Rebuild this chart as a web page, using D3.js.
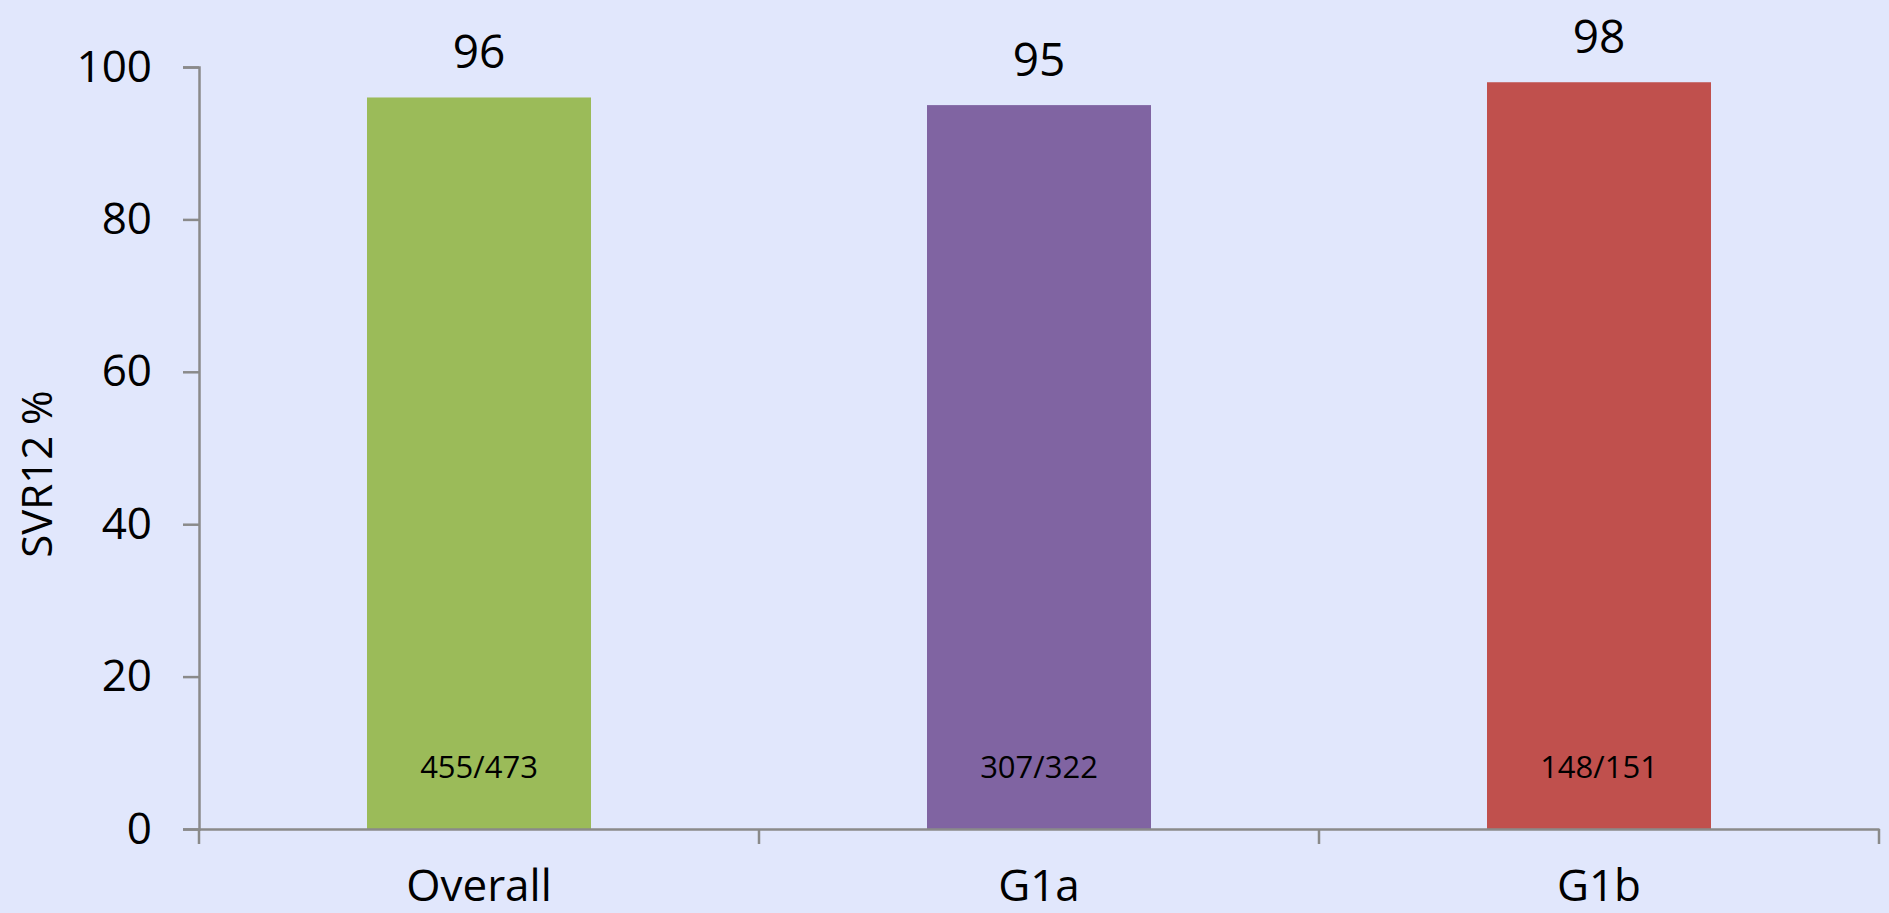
<!DOCTYPE html>
<html>
<head>
<meta charset="utf-8">
<script src="https://cdn.jsdelivr.net/npm/d3@7"></script>
<style>
  html, body { margin: 0; padding: 0; background: #e1e7fc; }
  svg { display: block; font-family: "Open Sans", sans-serif; }
</style>
</head>
<body>
<div id="chart"></div>
<script>
// chart data
var categories = ["Overall", "G1a", "G1b"];
var svrValues = [96, 95, 98];
var countLabels = ["455/473", "307/322", "148/151"];
var barColors = ["#9bbb59", "#8064a2", "#c0504d"];
var yTicks = [0, 20, 40, 60, 80, 100];

var svgWidth = 1889;
var svgHeight = 913;

var margin = { top: 67, right: 10, bottom: 84, left: 199 };
var width = 1879 - margin.left;
var height = svgHeight - margin.top - margin.bottom;

var axisColor = "#8a8a8a";

var svg = d3.select("#chart")
  .append("svg")
  .attr("width", svgWidth)
  .attr("height", svgHeight);

svg.append("rect")
  .attr("width", svgWidth)
  .attr("height", svgHeight)
  .attr("fill", "#e1e7fc");

var chartGroup = svg.append("g")
  .attr("transform", `translate(${margin.left}, ${margin.top})`);

// scales
var xBandScale = d3.scaleBand()
  .domain(categories)
  .range([0, width])
  .paddingInner(0)
  .paddingOuter(0);

var barWidth = xBandScale.bandwidth() * 0.4;

var yLinearScale = d3.scaleLinear()
  .domain([0, 100])
  .range([height, 0]);

// bars
chartGroup.selectAll(".bar")
  .data(svrValues)
  .enter()
  .append("rect")
  .attr("class", "bar")
  .attr("x", (d, i) => xBandScale(categories[i]) + (xBandScale.bandwidth() - barWidth) / 2)
  .attr("y", d => yLinearScale(d))
  .attr("width", barWidth)
  .attr("height", d => height - yLinearScale(d))
  .attr("fill", (d, i) => barColors[i]);

// y axis
var leftAxis = d3.axisLeft(yLinearScale)
  .tickValues(yTicks)
  .tickSize(16)
  .tickPadding(31)
  .tickFormat(d3.format("d"));

var yAxis = chartGroup.append("g").call(leftAxis);
yAxis.select(".domain").attr("stroke", axisColor).attr("stroke-width", 2.5);
yAxis.selectAll(".tick line").attr("stroke", axisColor).attr("stroke-width", 2.5);
yAxis.selectAll(".tick text")
  .attr("font-size", 44)
  .attr("font-family", "Open Sans, sans-serif")
  .attr("fill", "#000");

// x axis (labels only, boundary ticks drawn below)
var bottomAxis = d3.axisBottom(xBandScale)
  .tickSize(0)
  .tickPadding(41);

var xAxis = chartGroup.append("g")
  .attr("transform", `translate(0, ${height})`)
  .call(bottomAxis);
xAxis.select(".domain").attr("stroke", axisColor).attr("stroke-width", 2.5);
xAxis.selectAll(".tick text")
  .attr("font-size", 44)
  .attr("font-family", "Open Sans, sans-serif")
  .attr("fill", "#000");

// category boundary ticks
var boundaries = categories.map(c => xBandScale(c)).concat([width]);
xAxis.selectAll(".bound")
  .data(boundaries)
  .enter()
  .append("line")
  .attr("class", "bound")
  .attr("x1", d => d)
  .attr("x2", d => d)
  .attr("y1", 0)
  .attr("y2", 15)
  .attr("stroke", axisColor)
  .attr("stroke-width", 2.5);

// value labels above bars
chartGroup.selectAll(".valueLabel")
  .data(svrValues)
  .enter()
  .append("text")
  .attr("class", "valueLabel")
  .attr("x", (d, i) => xBandScale(categories[i]) + xBandScale.bandwidth() / 2)
  .attr("y", d => yLinearScale(d) - 29)
  .attr("text-anchor", "middle")
  .attr("font-size", 46)
  .attr("fill", "#000")
  .text(d => d);

// n/N labels inside bars
chartGroup.selectAll(".countLabel")
  .data(countLabels)
  .enter()
  .append("text")
  .attr("class", "countLabel")
  .attr("x", (d, i) => xBandScale(categories[i]) + xBandScale.bandwidth() / 2)
  .attr("y", yLinearScale(0) - 51)
  .attr("text-anchor", "middle")
  .attr("font-size", 31)
  .attr("fill", "#000")
  .text(d => d);

// y axis title
svg.append("text")
  .attr("transform", "translate(52, 474) rotate(-90)")
  .attr("text-anchor", "middle")
  .attr("font-size", 42)
  .attr("fill", "#000")
  .text("SVR12 %");
</script>
</body>
</html>
